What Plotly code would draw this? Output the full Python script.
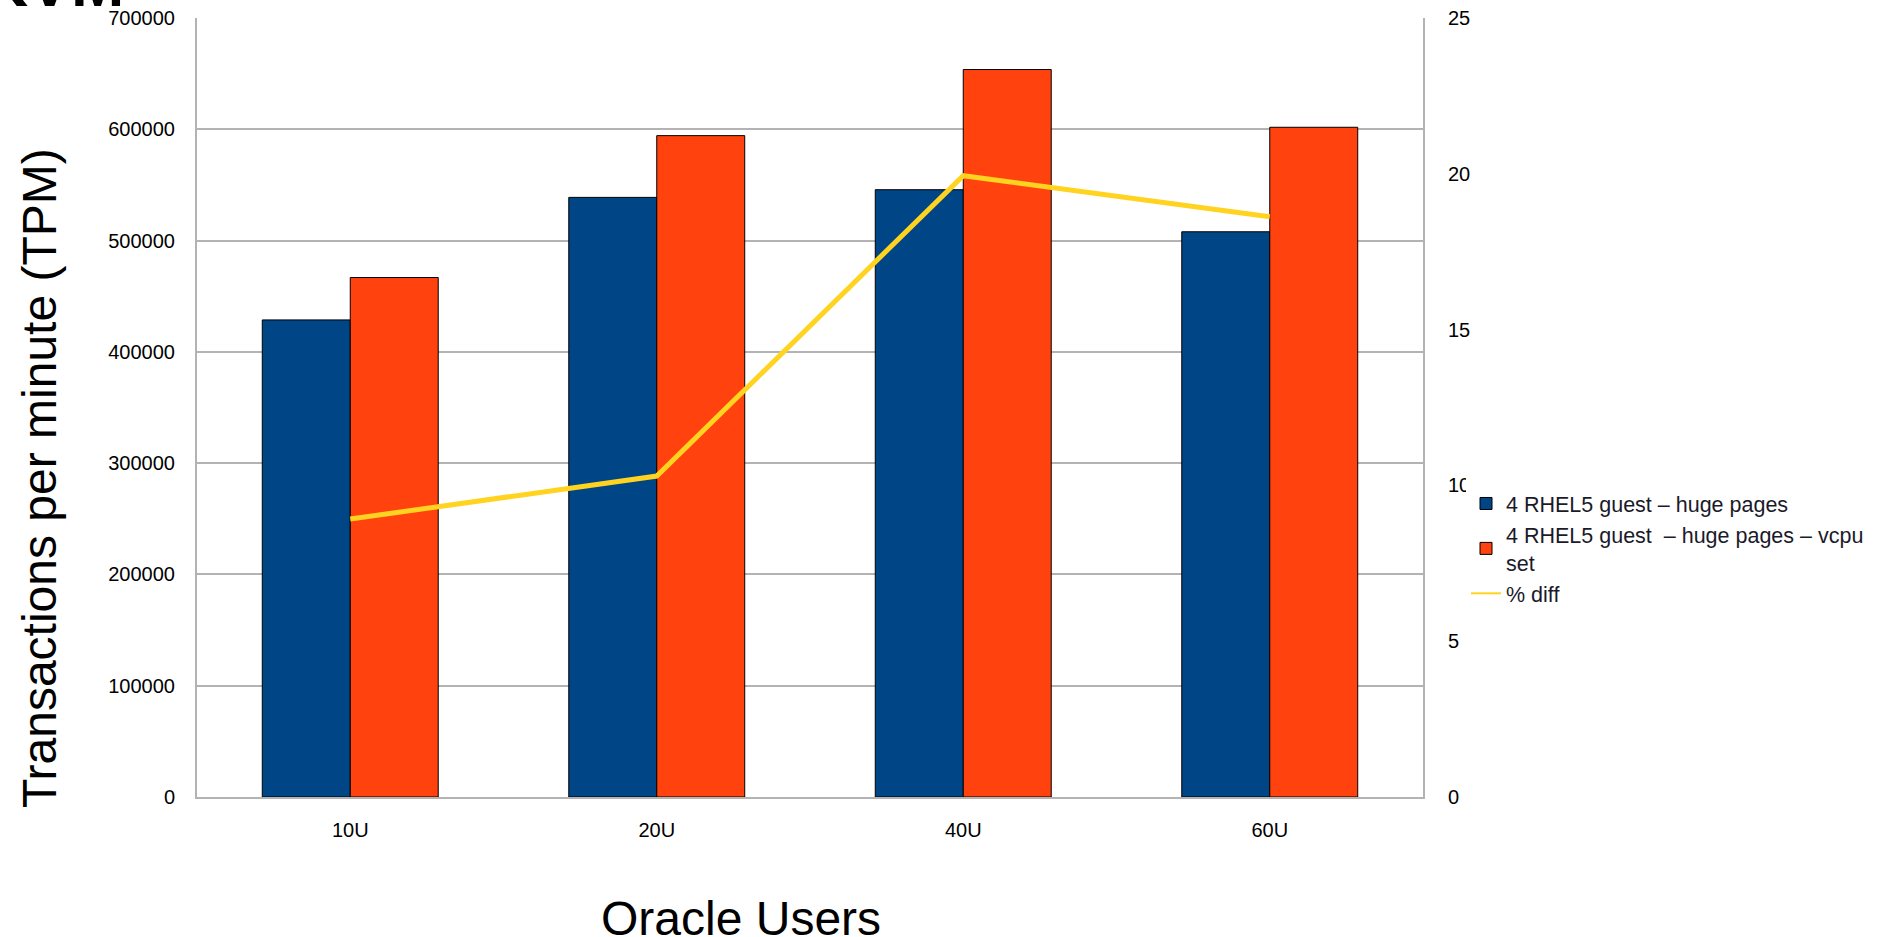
import plotly.graph_objects as go

categories = ["10U", "20U", "40U", "60U"]
huge_pages = [428700, 538800, 545700, 507900]
huge_pages_vcpu = [466800, 594300, 653700, 601800]
pct_diff = [8.92, 10.30, 19.94, 18.62]

series_names = [
    "4 RHEL5 guest – huge pages",
    "4 RHEL5 guest \u00a0– huge pages – vcpu<br>set",
    "% diff",
]

W, H = 1881, 937
L, R, T, B = 197, 458, 18, 140
pw = W - L - R
ph = H - T - B

def px_x(x):
    return (x - L) / pw

def px_y(y):
    return (H - B - y) / ph

fig = go.Figure()
fig.add_trace(go.Bar(
    x=categories, y=huge_pages, name=series_names[0],
    marker=dict(color="#004586", line=dict(color="#000000", width=1)),
))
fig.add_trace(go.Bar(
    x=categories, y=huge_pages_vcpu, name=series_names[1],
    marker=dict(color="#ff420e", line=dict(color="#000000", width=1)),
))
fig.add_trace(go.Scatter(
    x=categories, y=pct_diff, name=series_names[2], yaxis="y2",
    mode="lines", line=dict(color="#ffd320", width=5), showlegend=False,
))
# legend entry for the line (thin swatch as in the reference)
fig.add_trace(go.Scatter(
    x=[categories[0]], y=[None], name=series_names[2], yaxis="y2",
    mode="lines", line=dict(color="#ffd320", width=2), hoverinfo="skip",
))

grid = "#b3b3b3"
fig.update_layout(
    width=W, height=H,
    margin=dict(l=L, r=R, t=T, b=B, pad=0, autoexpand=False),
    paper_bgcolor="white", plot_bgcolor="white",
    font=dict(family="Liberation Sans, Arial, sans-serif", color="#000000"),
    barmode="group", bargap=0.426, bargroupgap=0,
    xaxis=dict(
        showline=True, linecolor=grid, linewidth=2, ticks="",
        tickfont=dict(size=20), ticklabelstandoff=14,
    ),
    yaxis=dict(
        range=[0, 700000], dtick=100000, tickformat="d",
        showgrid=True, gridcolor=grid, gridwidth=1.5,
        showline=True, linecolor=grid, linewidth=2,
        zeroline=False, ticks="", tickfont=dict(size=20),
        ticklabelstandoff=16,
    ),
    yaxis2=dict(
        range=[0, 25], dtick=5, overlaying="y", side="right",
        showgrid=False, showline=True, linecolor=grid, linewidth=2,
        zeroline=False, ticks="", tickfont=dict(size=20),
        ticklabelstandoff=19,
    ),
    legend=dict(
        xref="container", yref="container",
        x=1466 / W, y=1 - 470 / H, xanchor="left", yanchor="top",
        bgcolor="white", borderwidth=0,
        title=dict(text=" ", font=dict(size=10)),
        font=dict(family="Liberation Sans, Arial, sans-serif", size=21.5, color="#1a1a2a"),
        tracegroupgap=0,
    ),
    showlegend=True,
)

fig.add_annotation(
    text="Transactions per minute (TPM)", textangle=-90,
    xref="paper", yref="paper", x=px_x(40), y=px_y(478),
    xanchor="center", yanchor="middle", showarrow=False,
    font=dict(size=48),
)
fig.add_annotation(
    text="Oracle Users",
    xref="paper", yref="paper", x=px_x(741), y=px_y(918),
    xanchor="center", yanchor="middle", showarrow=False,
    font=dict(size=48),
)
fig.add_annotation(
    text="<b>KVM</b>",
    xref="paper", yref="paper", x=px_x(-20), y=px_y(22),
    xanchor="left", yanchor="bottom", showarrow=False,
    font=dict(size=64),
)

fig.write_html("out.html")
